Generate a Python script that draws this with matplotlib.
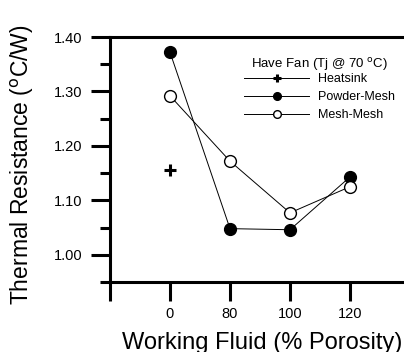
import matplotlib.pyplot as plt
from matplotlib.ticker import MultipleLocator

plt.rcParams['font.family'] = ['Liberation Sans', 'DejaVu Sans']

# category positions (-1 is an unlabelled slot at the left spine)
positions = [-1, 0, 1, 2, 3]
porosity_labels = ['', '0', '80', '100', '120']

heatsink_x = [0]
heatsink_y = [1.155]

powder_x = [0, 1, 2, 3]
powder_y = [1.372, 1.048, 1.046, 1.143]

mesh_x = [0, 1, 2, 3]
mesh_y = [1.292, 1.172, 1.077, 1.125]


def main():
    fig = plt.figure(figsize=(4.04, 3.52), dpi=100)
    ax = fig.add_axes([110 / 404, 70 / 352, 294 / 404, 245 / 352])

    ax.plot(heatsink_x, heatsink_y, color='k', lw=0.7, marker='+',
            ms=9, mew=2.2, label='Heatsink', clip_on=False)
    ax.plot(powder_x, powder_y, color='k', lw=0.7, marker='o', ms=8.5,
            mfc='k', mec='k', label='Powder-Mesh', clip_on=False)
    ax.plot(mesh_x, mesh_y, color='k', lw=0.7, marker='o', ms=8.5,
            mfc='white', mec='k', mew=1.0, label='Mesh-Mesh', clip_on=False)

    ax.set_xlim(-1, 3.9)
    ax.set_ylim(0.95, 1.40)
    ax.set_xticks(positions)
    ax.set_xticklabels(porosity_labels)
    ax.yaxis.set_major_locator(MultipleLocator(0.10))
    ax.yaxis.set_minor_locator(MultipleLocator(0.05))
    ax.set_yticklabels([f'{v:.2f}' for v in ax.get_yticks()])

    ax.tick_params(axis='both', which='major', direction='out', length=14,
                   width=2.2, labelsize=10.5, pad=4)
    ax.tick_params(axis='y', which='minor', direction='out', length=7,
                   width=2.2)
    ax.tick_params(axis='y', which='major', pad=6)

    for side in ['top', 'left', 'bottom']:
        ax.spines[side].set_linewidth(2.2)
    ax.spines['right'].set_visible(False)

    ax.set_xlabel('Working Fluid (% Porosity)', fontsize=17)
    ax.set_ylabel('Thermal Resistance ($^{\\mathrm{o}}$C/W)', fontsize=16.5)
    ax.xaxis.set_label_coords(152 / 294, -50 / 245)
    ax.yaxis.set_label_coords(-74 / 294, 0.48)

    # legend title drawn separately so the gap above the entries stays tight
    ax.text(210 / 294, 217 / 245, 'Have Fan (Tj @ 70 $^{\\mathrm{o}}$C)',
            transform=ax.transAxes, ha='center', va='center', fontsize=9.5)
    ax.legend(loc='upper left', bbox_to_anchor=(134 / 294, 209 / 245),
              frameon=False, fontsize=9, handlelength=5.2,
              handletextpad=0.7, labelspacing=0.5, borderpad=0,
              borderaxespad=0, markerscale=0.65)

    fig.savefig('out.png', dpi=100)


if __name__ == "__main__":
    main()
